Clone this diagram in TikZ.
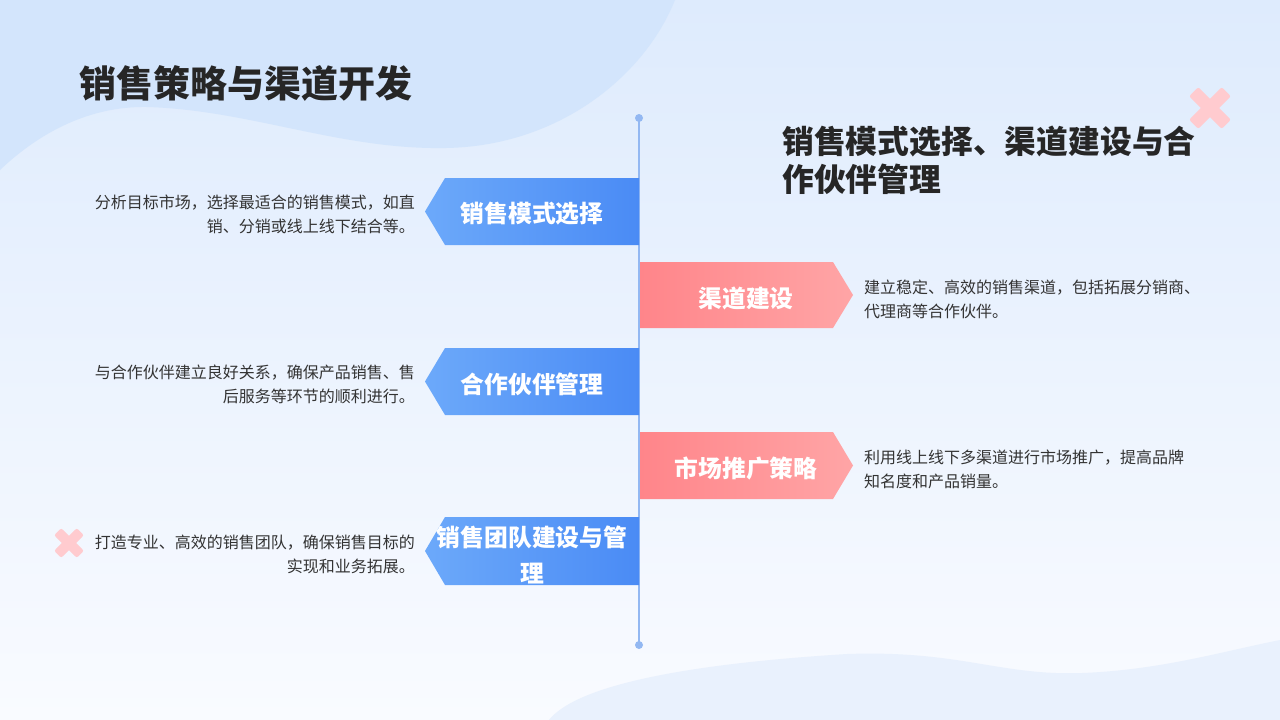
\documentclass[tikz,border=0pt]{standalone}
\usepackage{fontspec}
\setmainfont{Noto Sans CJK SC}
\newfontfamily\cjk{Noto Sans CJK SC}
\definecolor{bgtop}{HTML}{DEEBFD}
\definecolor{bgbot}{HTML}{F9FBFF}
\definecolor{blobA}{HTML}{D3E5FC}
\definecolor{blobB}{HTML}{E9F1FD}
\definecolor{blueL}{HTML}{6CA9FA}
\definecolor{blueR}{HTML}{4A8BF5}
\definecolor{redL}{HTML}{FF858A}
\definecolor{redR}{HTML}{FFA5A6}
\definecolor{crossc}{HTML}{FFCBCF}
\definecolor{linec}{HTML}{93B8F2}
\definecolor{txt}{HTML}{333333}
\definecolor{head}{HTML}{262626}
\begin{document}
\begin{tikzpicture}[x=1pt,y=-1pt,
  blueArrow/.style={left color=blueL,right color=blueR,draw=none},
  redArrow/.style={left color=redL,right color=redR,draw=none},
  boxText/.style={text=white,font=\cjk\bfseries\fontsize{23.8}{36}\selectfont,inner sep=0pt,align=center},
  descText/.style={text=txt,font=\cjk\fontsize{16}{24}\selectfont,inner sep=0pt},
  crossArm/.style={fill=crossc,rounded corners=2pt}]
\useasboundingbox (0,0) rectangle (1280,720);
% background
\shade[top color=bgtop,bottom color=bgbot] (0,0) rectangle (1280,720);
\fill[blobA] (0,0) -- (0,170) .. controls (40,132) and (90,106) .. (147,107)
  .. controls (250,110) and (340,150) .. (446,148)
  .. controls (560,146) and (645,75) .. (675,0) -- cycle;
\fill[blobB] (549,720) .. controls (565,700) and (620,668) .. (847,654)
  .. controls (960,650) and (1000,676) .. (1082,673)
  .. controls (1160,670) and (1220,652) .. (1280,640) -- (1280,720) -- cycle;
% crosses
\begin{scope}[shift={(1210,108)}]
  \fill[crossArm,rotate=45] (-23,-6.5) rectangle (23,6.5);
  \fill[crossArm,rotate=-45] (-23,-6.5) rectangle (23,6.5);
\end{scope}
\begin{scope}[shift={(69,543)}]
  \fill[crossArm,rotate=45] (-16,-5) rectangle (16,5);
  \fill[crossArm,rotate=-45] (-16,-5) rectangle (16,5);
\end{scope}
% title
\node[anchor=west,inner sep=0pt,text=head,font=\cjk\bfseries\fontsize{37}{42}\selectfont] (title) at (79,83) {销售策略与渠道开发};
\node[anchor=north west,inner sep=0pt,text=head,align=left,font=\cjk\bfseries\fontsize{31.8}{38}\selectfont] (subtitle) at (782,126) {销售模式选择、渠道建设与合\\作伙伴管理};
% timeline
\coordinate (ltop) at (639,118);
\coordinate (lbot) at (639,645);
\draw[linec,line width=1.2pt] (ltop) -- (lbot);
\fill[linec] (ltop) circle (4);
\fill[linec] (lbot) circle (4);
% blue arrows
\shade[blueArrow] (445,178) -- (639,178) -- (639,245) -- (445,245) -- (425,211.5) -- cycle;
\shade[blueArrow] (445,348) -- (639,348) -- (639,415) -- (445,415) -- (425,381.5) -- cycle;
\shade[blueArrow] (445,517) -- (639,517) -- (639,585) -- (445,585) -- (425,551) -- cycle;
% red arrows
\shade[redArrow] (640,262) -- (833,262) -- (853,295) -- (833,328) -- (640,328) -- cycle;
\shade[redArrow] (640,432) -- (833,432) -- (853,465.5) -- (833,499) -- (640,499) -- cycle;
% box labels
\node[boxText] (b1) at (532,214) {销售模式选择};
\node[boxText] (b2) at (532,384) {合作伙伴管理};
\node[boxText] (b3) at (532,555) {销售团队建设与管\\理};
\node[boxText] (r1) at (746,298) {渠道建设};
\node[boxText] (r2) at (746,468) {市场推广策略};
% descriptions
\node[descText,anchor=east,align=right] (d1) at (415,214) {分析目标市场，选择最适合的销售模式，如直\\销、分销或线上线下结合等。};
\node[descText,anchor=east,align=right] (d2) at (415,384) {与合作伙伴建立良好关系，确保产品销售、售\\后服务等环节的顺利进行。};
\node[descText,anchor=east,align=right] (d3) at (415,554) {打造专业、高效的销售团队，确保销售目标的\\实现和业务拓展。};
\node[descText,anchor=west,align=left] (d4) at (864,299) {建立稳定、高效的销售渠道，包括拓展分销商、\\代理商等合作伙伴。};
\node[descText,anchor=west,align=left] (d5) at (864,469) {利用线上线下多渠道进行市场推广，提高品牌\\知名度和产品销量。};
\end{tikzpicture}
\end{document}
